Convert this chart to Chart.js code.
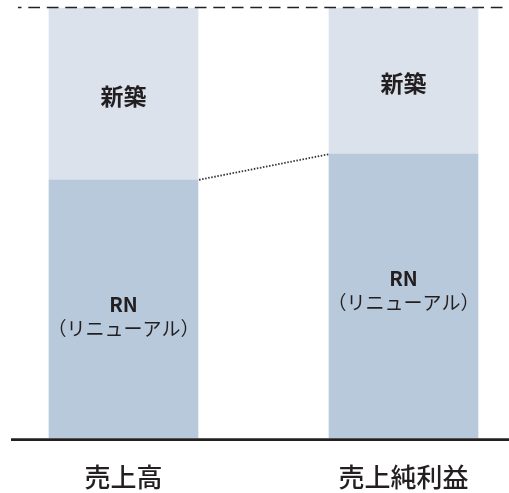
<!DOCTYPE html>
<html>
<head>
<meta charset="utf-8">
<script src="https://cdn.jsdelivr.net/npm/chart.js@4"></script>
<style>
  html, body { margin: 0; padding: 0; background: #fff; }
  #wrap { width: 509px; height: 493px; }
</style>
</head>
<body>
<div id="wrap"><canvas id="chart"></canvas></div>
<script>
// データ
const categories = ['売上高', '売上純利益'];
const rnShare = [60, 66];      // RN(リニューアル) 構成比 %
const newShare = [40, 34];     // 新築 構成比 %
const segmentNames = ['RN', '新築'];
const rnSubLabel = '（リニューアル）';

const FONT = '"Noto Sans CJK JP", "Noto Sans", sans-serif';

// 上端の破線・下の軸線・点線・バー内ラベル
const decor = {
  id: 'decor',
  afterDatasetsDraw(chart) {
    const { ctx, scales: { y } } = chart;
    const W = chart.width;
    const top = y.getPixelForValue(100);
    const base = y.getPixelForValue(0);

    ctx.save();
    // 破線 (100%)
    ctx.strokeStyle = '#222';
    ctx.lineWidth = 1.5;
    ctx.setLineDash([11.7, 6.8]);
    ctx.lineDashOffset = 8.2;
    ctx.beginPath();
    ctx.moveTo(18, top - 0.5);
    ctx.lineTo(W, top - 0.5);
    ctx.stroke();

    // 軸線
    ctx.setLineDash([]);
    ctx.strokeStyle = '#231f20';
    ctx.lineWidth = 2.6;
    ctx.beginPath();
    ctx.moveTo(11, base + 1.6);
    ctx.lineTo(W, base + 1.6);
    ctx.stroke();

    // RN 上端をつなぐ点線
    const rnMeta = chart.getDatasetMeta(0);
    const b1 = rnMeta.data[0], b2 = rnMeta.data[1];
    ctx.strokeStyle = '#333';
    ctx.lineWidth = 1.8;
    ctx.setLineDash([1.5, 1.6]);
    ctx.beginPath();
    ctx.moveTo(b1.x + b1.width / 2, b1.y);
    ctx.lineTo(b2.x - b2.width / 2, b2.y);
    ctx.stroke();
    ctx.setLineDash([]);

    // バー内ラベル
    ctx.fillStyle = '#231f20';
    ctx.textAlign = 'center';
    ctx.textBaseline = 'middle';
    chart.data.datasets.forEach((ds, di) => {
      chart.getDatasetMeta(di).data.forEach(bar => {
        if (di === 0) {
          ctx.font = 'bold 20px ' + FONT;
          ctx.fillText(segmentNames[0], bar.x, bar.y + 124);
          ctx.font = '19px ' + FONT;
          ctx.fillText(rnSubLabel, bar.x, bar.y + 149);
        } else {
          const cy = (bar.y + bar.base) / 2;
          ctx.font = 'bold 23px ' + FONT;
          ctx.fillText(segmentNames[1], bar.x, cy + 2);
        }
      });
    });
    ctx.restore();
  }
};

new Chart(document.getElementById('chart'), {
  type: 'bar',
  data: {
    labels: categories,
    datasets: [
      { label: segmentNames[0], data: rnShare, backgroundColor: '#b8c9db', clip: false },
      { label: segmentNames[1], data: newShare, backgroundColor: '#dbe2ec', clip: false }
    ]
  },
  options: {
    responsive: true,
    maintainAspectRatio: false,
    animation: false,
    barThickness: 149,
    layout: { padding: { top: 8, left: 123.5, right: 105.5, bottom: 0 } },
    plugins: { legend: { display: false }, tooltip: { enabled: false } },
    scales: {
      x: {
        stacked: true,
        offset: false,
        grid: { display: false, drawTicks: false },
        border: { display: false },
        ticks: { color: '#231f20', padding: 24, font: { family: FONT, size: 26, weight: '500' }, maxRotation: 0 },
        afterFit(scale) { scale.height = 55; }
      },
      y: {
        stacked: true,
        display: false,
        min: 0,
        max: 100
      }
    }
  },
  plugins: [decor]
});
</script>
</body>
</html>
